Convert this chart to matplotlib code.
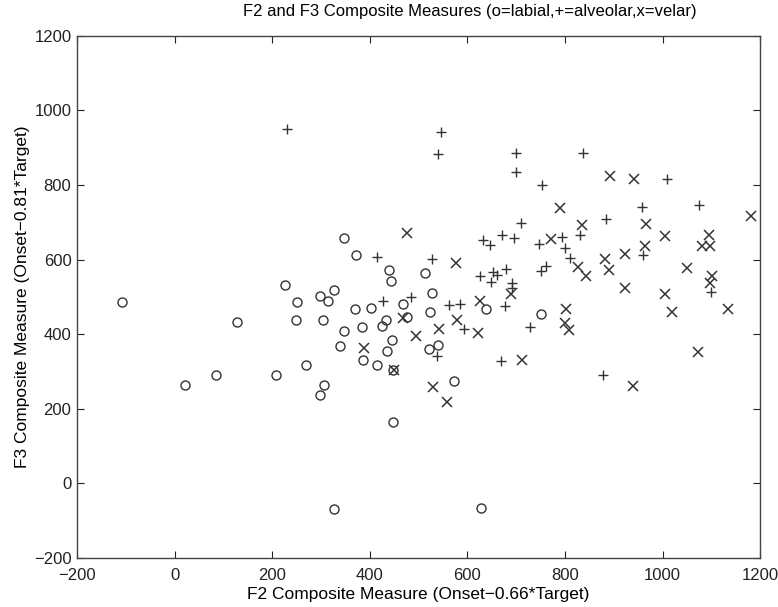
import matplotlib.pyplot as plt

# F2 / F3 composite measures
labial_x = [-108, 22, 84, 127, 207, 226, 248, 250, 269, 297, 297, 305, 306, 315, 327,
            339, 347, 347, 369, 371, 385, 387, 402, 415, 426, 433, 436, 439, 443, 446,
            448, 448, 477, 469, 514, 521, 523, 528, 540, 573, 639, 750, 327, 628]
labial_y = [485, 264, 290, 432, 290, 532, 438, 485, 316, 503, 238, 438, 264, 488, 517,
            369, 658, 408, 467, 611, 420, 331, 469, 316, 422, 437, 356, 571, 543, 383,
            304, 164, 445, 480, 564, 360, 459, 510, 371, 275, 468, 455, -68, -67]

alveolar_x = [230, 415, 427, 484, 527, 537, 540, 546, 562, 585, 594, 626, 633, 646, 648,
              652, 661, 669, 671, 678, 680, 691, 691, 695, 700, 700, 710, 728, 747, 750,
              753, 762, 794, 801, 810, 831, 836, 878, 885, 957, 959, 1010, 1075, 1100]
alveolar_y = [950, 608, 488, 499, 601, 340, 884, 942, 479, 481, 414, 557, 653, 640, 541,
              566, 559, 329, 666, 476, 574, 538, 524, 659, 885, 836, 698, 420, 641, 568,
              799, 584, 660, 631, 603, 666, 887, 289, 708, 742, 613, 816, 747, 514]

velar_x = [388, 450, 469, 476, 495, 530, 542, 559, 576, 578, 621, 626, 689, 712, 771,
           790, 802, 801, 808, 827, 835, 843, 883, 890, 892, 923, 924, 940, 941, 964,
           966, 1005, 1005, 1019, 1051, 1072, 1080, 1095, 1097, 1102, 1098, 1135, 1181]
velar_y = [364, 304, 443, 671, 394, 257, 413, 217, 590, 437, 403, 489, 508, 331, 656,
           738, 467, 430, 410, 581, 693, 555, 601, 573, 825, 615, 525, 262, 817, 637,
           696, 662, 508, 458, 577, 352, 635, 666, 635, 555, 538, 468, 716]

ticks = [-200, 0, 200, 400, 600, 800, 1000, 1200]

plt.rcParams['font.family'] = ['Liberation Sans', 'DejaVu Sans']

fig = plt.figure(figsize=(7.78, 6.07), dpi=100)
ax = fig.add_axes([0.099, 0.081, 0.878, 0.860])

col = '#333333'
ax.plot(labial_x, labial_y, 'o', mfc='none', mec=col, ms=6.5, mew=1.0)
ax.plot(alveolar_x, alveolar_y, '+', color=col, ms=6.5, mew=1.0)
ax.plot(velar_x, velar_y, 'x', color=col, ms=7, mew=1.1)

ax.set_xlim(-200, 1200)
ax.set_ylim(-200, 1200)
ax.set_xticks(ticks)
ax.set_yticks(ticks)
ax.tick_params(direction='in', top=True, right=True, length=5, labelsize=12, colors='#222222')
ax.tick_params(axis='x', pad=7)
ax.tick_params(axis='y', pad=4)
for s in ax.spines.values():
    s.set_color('#444444')
    s.set_linewidth(1.0)

ax.set_title('F2 and F3 Composite Measures (o=labial,+=alveolar,x=velar)', fontsize=12, pad=14, x=0.575)
ax.set_xlabel('F2 Composite Measure (Onset\u22120.66*Target)', fontsize=12.5, labelpad=3)
ax.set_ylabel('F3 Composite Measure (Onset\u22120.81*Target)', fontsize=12.5, labelpad=3)

plt.savefig('out.png', dpi=100)
